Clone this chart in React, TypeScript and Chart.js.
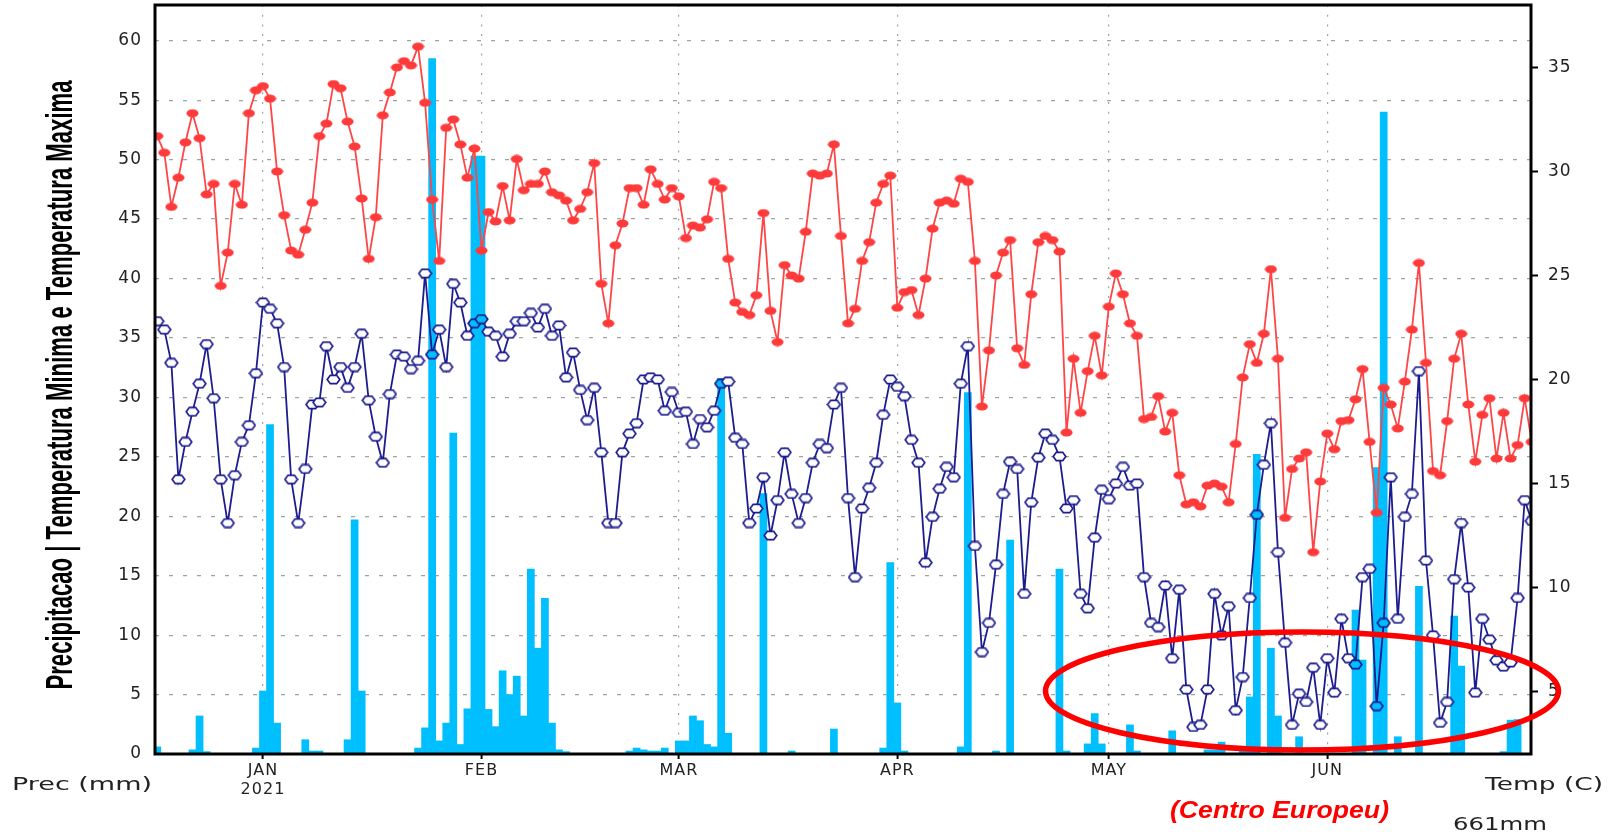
import React, { useEffect, useRef } from 'react';
import { Chart, registerables } from 'chart.js';

Chart.register(...registerables);

// ---------------- data ----------------
// day index relative to 1 Jan 2021 (first value = 17 Dec 2020)
const FIRST_DAY = -15;
const MONTH_TICK_DAYS = [0, 31, 59, 90, 120, 151];
const MONTH_TICK_LABELS: (string | string[])[] = [['JAN', '2021'], 'FEB', 'MAR', 'APR', 'MAY', 'JUN'];
const PRECIP_TICKS = [0, 5, 10, 15, 20, 25, 30, 35, 40, 45, 50, 55, 60];
const TEMP_TICKS = [5, 10, 15, 20, 25, 30, 35];

// daily precipitation (mm)
const precipitation = [
  // Dec 17-31
  0.6, 0, 0, 0, 0, 0.35, 3.2, 0.2, 0, 0, 0, 0, 0, 0, 0.5,
  // Jan
  5.3, 27.7, 2.6, 0, 0, 0, 1.2, 0.25, 0.25, 0, 0, 0, 1.2, 19.7, 5.3, 0, 0, 0, 0, 0, 0, 0, 0.5, 2.2, 58.5, 1.1, 2.6, 27.0, 0.8, 3.8, 50.3,
  // Feb
  50.3, 3.75, 2.3, 7.0, 5.0, 6.55, 3.2, 15.55, 8.9, 13.1, 2.6, 0.35, 0.2, 0, 0, 0, 0, 0, 0, 0, 0, 0.25, 0.5, 0.35, 0.25, 0.25, 0.5, 0,
  // Mar
  1.1, 1.1, 3.2, 2.8, 0.8, 0.6, 31.6, 1.75, 0, 0, 0, 0, 21.9, 0, 0, 0, 0.25, 0, 0, 0, 0, 0, 2.1, 0, 0, 0, 0, 0, 0, 0.5, 16.1,
  // Apr
  4.3, 0.25, 0, 0, 0, 0, 0, 0, 0, 0.6, 30.4, 0, 0, 0, 0.25, 0, 18.0, 0, 0, 0, 0, 0, 0, 15.55, 0.25, 0, 0, 0.85, 3.4, 0.85,
  // May
  0, 0, 0, 2.45, 0.25, 0, 0, 0, 0, 1.95, 0, 0, 0, 0, 0.35, 0.35, 1.0, 0, 0, 0.65, 4.8, 25.2, 0, 8.9, 3.2, 0, 0, 1.45, 0, 0, 0,
  // Jun
  0, 0, 0, 0, 12.1, 7.9, 0, 24.1, 54.0, 0, 1.45, 0, 0, 14.1, 0, 0, 0, 0, 11.6, 7.4, 0, 0, 0, 0, 0, 0.2, 2.85, 2.9, 0, 0,
];

// daily maximum temperature (C)
const maxTemperature = [
  // Dec 17-31
  31.7, 30.9, 28.3, 29.7, 31.4, 32.8, 31.6, 28.9, 29.4, 24.5, 26.1, 29.4, 28.4, 32.8, 33.9,
  // Jan
  34.1, 33.5, 30.0, 27.9, 26.2, 26.0, 27.2, 28.5, 31.7, 32.3, 34.2, 34.0, 32.4, 31.2, 28.7, 25.8, 27.8, 32.7, 33.8, 35.0, 35.3, 35.1, 36.0, 33.3, 28.65, 25.7, 32.1, 32.5, 31.3, 29.7, 31.1,
  // Feb
  26.2, 28.05, 27.6, 29.3, 27.65, 30.6, 29.1, 29.4, 29.4, 30.0, 29.0, 28.85, 28.6, 27.65, 28.2, 29.0, 30.4, 24.6, 22.7, 26.45, 27.5, 29.2, 29.2, 28.4, 30.1, 29.4, 28.65, 29.2,
  // Mar
  28.8, 26.8, 27.4, 27.3, 27.7, 29.5, 29.2, 25.8, 23.7, 23.25, 23.1, 24.05, 28.0, 23.3, 21.8, 25.5, 25.0, 24.85, 27.1, 29.9, 29.8, 29.9, 31.3, 26.9, 22.7, 23.4, 25.7, 26.6, 28.5, 29.4, 29.8,
  // Apr
  23.45, 24.2, 24.3, 23.1, 24.85, 27.25, 28.5, 28.6, 28.45, 29.65, 29.5, 25.7, 18.7, 21.4, 25.0, 26.1, 26.7, 21.5, 20.7, 24.1, 26.6, 26.9, 26.7, 26.15, 17.45, 21.0, 18.4, 20.4, 22.1, 20.2,
  // May
  23.5, 25.1, 24.1, 22.7, 22.1, 18.1, 18.2, 19.2, 17.5, 18.4, 15.4, 14.0, 14.1, 13.9, 14.9, 15.0, 14.85, 14.1, 16.9, 20.1, 21.7, 20.8, 22.2, 25.3, 21.0, 13.35, 15.7, 16.2, 16.5, 11.7, 15.1,
  // Jun
  17.4, 16.65, 18.0, 18.05, 19.05, 20.5, 17.0, 13.6, 19.6, 18.8, 17.65, 19.9, 22.4, 25.6, 20.8, 15.6, 15.4, 18.0, 21.0, 22.2, 18.8, 16.05, 18.3, 19.1, 16.2, 18.4, 16.2, 16.85, 19.1, 17.0,
];

// daily minimum temperature (C)
const minTemperature = [
  // Dec 17-31
  22.8, 22.4, 20.8, 15.2, 17.0, 18.45, 19.8, 21.7, 19.1, 15.2, 13.1, 15.4, 17.0, 17.8, 20.3,
  // Jan
  23.7, 23.4, 22.7, 20.6, 15.2, 13.1, 15.7, 18.8, 18.9, 21.6, 20.0, 20.6, 19.6, 20.6, 22.2, 19.0, 17.25, 16.0, 19.3, 21.2, 21.1, 20.5, 20.9, 25.1, 21.2, 22.4, 20.6, 24.6, 23.7, 22.1, 22.7,
  // Feb
  22.9, 22.3, 22.1, 21.1, 22.2, 22.8, 22.8, 23.2, 22.5, 23.4, 22.1, 22.6, 20.1, 21.3, 19.5, 18.05, 19.6, 16.5, 13.1, 13.1, 16.5, 17.4, 17.9, 20.0, 20.1, 20.0, 18.5, 19.4,
  // Mar
  18.4, 18.45, 16.9, 18.1, 17.7, 18.5, 19.8, 19.9, 17.2, 16.9, 13.1, 13.8, 15.3, 12.5, 14.2, 16.5, 14.5, 13.1, 14.3, 16.0, 16.9, 16.7, 18.8, 19.6, 14.3, 10.5, 13.8, 14.8, 16.0, 18.3, 20.0,
  // Apr
  19.65, 19.2, 17.1, 16.0, 11.2, 13.4, 14.75, 15.8, 15.3, 19.8, 21.6, 12.0, 6.9, 8.3, 11.1, 14.5, 16.05, 15.7, 9.7, 14.1, 16.25, 17.4, 17.1, 16.3, 13.8, 14.2, 9.7, 9.0, 12.4, 14.7,
  // May
  14.25, 15.0, 15.8, 14.9, 15.0, 10.5, 8.3, 8.1, 10.1, 6.6, 9.9, 5.1, 3.3, 3.4, 5.1, 9.7, 7.7, 9.1, 4.1, 5.7, 9.5, 13.5, 15.9, 17.9, 11.7, 7.35, 3.4, 4.9, 4.5, 6.15, 3.4,
  // Jun
  6.6, 4.95, 8.5, 6.6, 6.3, 10.5, 10.9, 4.3, 8.3, 15.3, 8.5, 13.4, 14.5, 20.4, 11.3, 7.7, 3.5, 4.5, 10.4, 13.1, 10.0, 4.95, 8.5, 7.5, 6.5, 6.2, 6.4, 9.5, 14.2, 13.2,
];

// ---------------- style / layout ----------------
const W = 1619;
const H = 834;
const PRECIP_MIN = 0, PRECIP_MAX = 63;
const TEMP_MIN = 2, TEMP_MAX = 38;
const DAY_MIN = -15.32, DAY_MAX = 179.9;
const FONT = '"DejaVu Sans", sans-serif';
const GRID = '#a2a2a2';
const NAVY = '#1c1c8e';
const RED = '#ff4545';
const CYAN = '#00bfff';

function makeCanvas(w: number, h: number, draw: (c: CanvasRenderingContext2D) => void) {
  const cv = document.createElement('canvas');
  cv.width = w;
  cv.height = h;
  const c = cv.getContext('2d') as CanvasRenderingContext2D;
  draw(c);
  return cv;
}

function hexMarker(fill: string) {
  return makeCanvas(15, 11, (c) => {
    c.beginPath();
    c.moveTo(1.2, 5.5);
    c.lineTo(4.3, 1.3);
    c.lineTo(10.7, 1.3);
    c.lineTo(13.8, 5.5);
    c.lineTo(10.7, 9.7);
    c.lineTo(4.3, 9.7);
    c.closePath();
    c.fillStyle = fill;
    c.fill();
    c.lineWidth = 1.7;
    c.strokeStyle = NAVY;
    c.stroke();
  });
}

function drawFitted(ctx: CanvasRenderingContext2D, text: string, x: number, y: number, width: number, font: string, color: string) {
  ctx.save();
  ctx.font = font;
  ctx.fillStyle = color;
  ctx.textAlign = 'left';
  ctx.textBaseline = 'alphabetic';
  const w = ctx.measureText(text).width;
  ctx.translate(x, y);
  ctx.scale(width / w, 1);
  ctx.fillText(text, 0, 0);
  ctx.restore();
}

const decorPlugin = {
  id: 'decor',
  beforeDraw(chart: any) {
    // wider glyph spacing for axis labels (GrADS-like lettering)
    (chart.ctx as any).letterSpacing = '1px';
  },
  afterDraw(chart: any) {
    const ctx = chart.ctx as CanvasRenderingContext2D;
    (ctx as any).letterSpacing = '0px';
    const a = chart.chartArea;
    ctx.save();
    // frame
    ctx.strokeStyle = '#000';
    ctx.lineWidth = 3;
    ctx.strokeRect(a.left, a.top, a.right - a.left, a.bottom - a.top);

    // rotated left title
    const title = 'Precipitacao | Temperatura Minima e Temperatura Maxima';
    ctx.save();
    ctx.font = 'bold 36px "Liberation Sans", Arial, sans-serif';
    const tw = ctx.measureText(title).width;
    ctx.translate(72, 385);
    ctx.rotate(-Math.PI / 2);
    ctx.scale(609 / tw, 1);
    ctx.fillStyle = '#000';
    ctx.textAlign = 'center';
    ctx.textBaseline = 'alphabetic';
    ctx.fillText(title, 0, 0);
    ctx.restore();

    drawFitted(ctx, 'Prec (mm)', 12, 790, 140, '18px ' + FONT, '#222');
    drawFitted(ctx, 'Temp (C)', 1485, 790, 118, '18px ' + FONT, '#222');
    drawFitted(ctx, '661mm', 1453, 830, 94, '18px ' + FONT, '#222');
    drawFitted(ctx, '(Centro Europeu)', 1170, 818, 219, 'italic bold 23px "Liberation Sans", Arial, sans-serif', '#ff0000');

    // highlight ellipse
    ctx.beginPath();
    ctx.ellipse(1302, 691, 256.5, 59, 0, 0, Math.PI * 2);
    ctx.lineWidth = 5.5;
    ctx.strokeStyle = '#ff0000';
    ctx.stroke();
    ctx.restore();
  },
};

export default function App() {
  const ref = useRef<HTMLCanvasElement>(null);

  useEffect(() => {
    const canvas = ref.current as HTMLCanvasElement;
    const redMark = makeCanvas(13, 9, (c) => {
      c.beginPath();
      c.ellipse(6.5, 4.5, 6, 4, 0, 0, Math.PI * 2);
      c.fillStyle = '#ff3a3a';
      c.fill();
    });
    const hexPlain = hexMarker('#ffffff');
    const hexOnBar = hexMarker(CYAN);

    const days = precipitation.map((_, i) => FIRST_DAY + i);
    const toPrecipUnits = (t: number) => ((t - TEMP_MIN) / (TEMP_MAX - TEMP_MIN)) * (PRECIP_MAX - PRECIP_MIN) + PRECIP_MIN;

    const chart = new Chart(canvas, {
      type: 'bar',
      data: {
        datasets: [
          {
            type: 'bar',
            data: days.map((d, i) => ({ x: d, y: precipitation[i] })),
            backgroundColor: CYAN,
            borderWidth: 0,
            barPercentage: 1,
            categoryPercentage: 1,
            xAxisID: 'x',
            yAxisID: 'y',
            order: 3,
          } as any,
          {
            type: 'line',
            data: days.map((d, i) => ({ x: d, y: maxTemperature[i] })),
            borderColor: RED,
            borderWidth: 1.8,
            pointStyle: redMark as any,
            pointRadius: 5,
            pointBorderWidth: 0,
            tension: 0,
            xAxisID: 'x',
            yAxisID: 'y2',
            order: 2,
          } as any,
          {
            type: 'line',
            data: days.map((d, i) => ({ x: d, y: minTemperature[i] })),
            borderColor: NAVY,
            borderWidth: 1.8,
            pointStyle: (c: any) => {
              const i = c.dataIndex;
              if (i === undefined) return hexPlain;
              return precipitation[i] > toPrecipUnits(minTemperature[i]) ? hexOnBar : hexPlain;
            },
            pointRadius: 5,
            pointBorderWidth: 0,
            tension: 0,
            xAxisID: 'x',
            yAxisID: 'y2',
            order: 1,
          } as any,
        ],
      },
      options: {
        responsive: false,
        animation: false,
        devicePixelRatio: 1,
        layout: { padding: { top: 5, left: 0, right: 0, bottom: 0 } },
        plugins: { legend: { display: false }, tooltip: { enabled: false } },
        scales: {
          x: {
            type: 'linear',
            min: DAY_MIN,
            max: DAY_MAX,
            offset: false,
            afterBuildTicks: (s: any) => {
              s.ticks = MONTH_TICK_DAYS.map((v) => ({ value: v }));
            },
            afterFit: (s: any) => {
              s.height = 80;
              s.paddingLeft = 0;
              s.paddingRight = 0;
            },
            ticks: {
              autoSkip: false,
              maxRotation: 0,
              minRotation: 0,
              padding: 3,
              color: '#222',
              font: { family: FONT, size: 16, lineHeight: 1.15 },
              callback: (_v: any, i: number) => MONTH_TICK_LABELS[i],
            },
            grid: { offset: false, color: GRID, lineWidth: 1.2, tickLength: 5, tickColor: '#000', tickWidth: 2 },
            border: { display: false, dash: [2, 7.7] },
          } as any,
          y: {
            type: 'linear',
            position: 'left',
            min: PRECIP_MIN,
            max: PRECIP_MAX,
            afterBuildTicks: (s: any) => {
              s.ticks = PRECIP_TICKS.map((v) => ({ value: v }));
            },
            afterFit: (s: any) => {
              s.width = 155;
              s.paddingTop = 0;
              s.paddingBottom = 0;
            },
            ticks: { padding: 13, color: '#222', font: { family: FONT, size: 17 }, callback: (v: any) => String(v) },
            grid: { color: GRID, lineWidth: 1.2, drawTicks: false },
            border: { display: false, dash: [4, 10] },
          } as any,
          y2: {
            type: 'linear',
            position: 'right',
            min: TEMP_MIN,
            max: TEMP_MAX,
            afterBuildTicks: (s: any) => {
              s.ticks = TEMP_TICKS.map((v) => ({ value: v }));
            },
            afterFit: (s: any) => {
              s.width = W - 1531;
              s.paddingTop = 0;
              s.paddingBottom = 0;
            },
            ticks: { padding: 10, color: '#222', font: { family: FONT, size: 17 }, callback: (v: any) => String(v) },
            grid: { drawOnChartArea: false, drawTicks: true, tickLength: 7, color: '#000', tickColor: '#000', tickWidth: 2 },
            border: { display: false },
          } as any,
        },
      },
      plugins: [decorPlugin as any],
    });

    return () => chart.destroy();
  }, []);

  return (
    <div style={{ position: 'fixed', left: 0, top: 0, width: W, height: H, background: '#fff' }}>
      <canvas ref={ref} width={W} height={H} style={{ display: 'block', width: W, height: H }} />
    </div>
  );
}
